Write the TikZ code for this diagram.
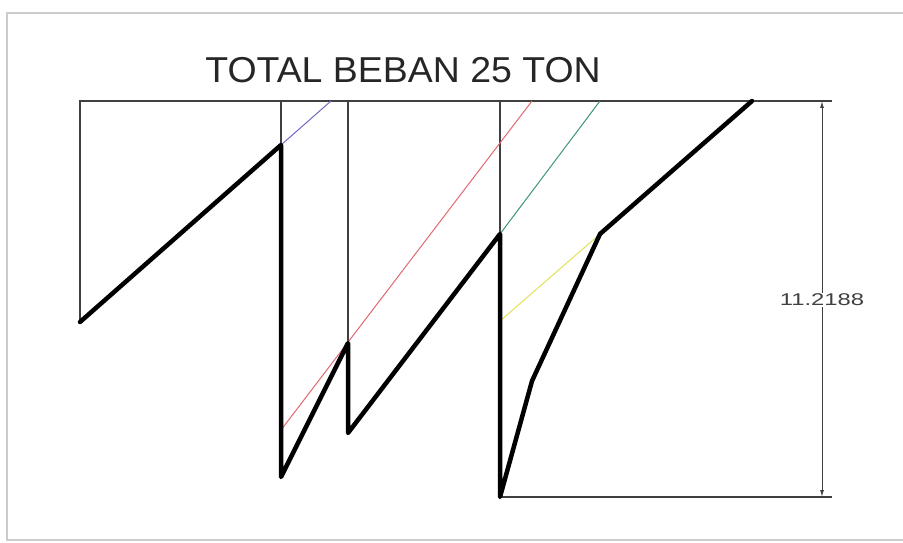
\documentclass[tikz,border=0pt]{standalone}
\usepackage{fontspec}
\setmainfont{Liberation Sans}
\usetikzlibrary{arrows.meta}

\tikzset{
  guide/.style={line width=1.3pt, black!75},
  loadline/.style={line width=4.5pt, line join=round, line cap=round},
  frameline/.style={line width=1.5pt, black!20},
}

\begin{document}
\begin{tikzpicture}[x=1pt,y=-1pt]
    \useasboundingbox (0,0) rectangle (903,543);
    % Frame of the sheet
    \draw [frameline] (903,13) -- (7,13) -- (7,540) -- (903,540);

    % Title
    \node (title) at (403,83) [anchor=base, inner sep=0pt, text=black!85]
        {\fontsize{36}{40}\selectfont\scalebox{1.04}[1]{TOTAL BEBAN 25 TON}};

    % Points of the load line
    \coordinate (a0) at (80,322);
    \coordinate (a1) at (281,145);
    \coordinate (a2) at (281,477);
    \coordinate (a3) at (348,343);
    \coordinate (a4) at (348,433);
    \coordinate (a5) at (500,234);
    \coordinate (a6) at (500,497);
    \coordinate (a7) at (532,381);
    \coordinate (a8) at (600,234);
    \coordinate (a9) at (752,101);
    % Points on the top and bottom lines
    \coordinate (t0) at (80,101);
    \coordinate (t1) at (281,101);
    \coordinate (t2) at (348,101);
    \coordinate (t3) at (500,101);
    \coordinate (tb) at (331,101);
    \coordinate (tr) at (532,101);
    \coordinate (tg) at (600,101);
    \coordinate (tend) at (832,101);
    \coordinate (bend) at (832,497);
    \coordinate (r0) at (281,430);
    \coordinate (y0) at (500,321);

    % Guide lines
    \draw [guide] (a0) -- (t0) -- (tend);
    \draw [guide] (a6) -- (bend);
    \foreach \p/\q in {t1/a1, t2/a3, t3/a5}{%
        \draw [guide] (\p) -- (\q);
    }

    % Coloured lines
    \draw [line width=1pt, color={rgb,255:red,110;green,105;blue,200}] (a1) -- (tb);
    \draw [line width=1pt, color={rgb,255:red,225;green,105;blue,110}] (r0) -- (tr);
    \draw [line width=1pt, color={rgb,255:red,60;green,150;blue,115}] (a5) -- (tg);
    \draw [line width=1pt, color={rgb,255:red,225;green,225;blue,90}] (y0) -- (a8);

    % Load line
    \draw [loadline] (a0) -- (a1) -- (a2) -- (a3) -- (a4) -- (a5) -- (a6) -- (a7) -- (a8) -- (a9);

    % Dimension
    \node (dim) at (822,300) [fill=white, inner sep=1pt, text=black!75]
        {\scalebox{1.4}[1]{\fontsize{17}{17}\selectfont 11.2188}};
    \draw [guide, line width=1pt, -{Latex[length=7pt,width=4pt]}] (dim.north) -- (822,101);
    \draw [guide, line width=1pt, -{Latex[length=7pt,width=4pt]}] (dim.south) -- (822,497);
\end{tikzpicture}
\end{document}
